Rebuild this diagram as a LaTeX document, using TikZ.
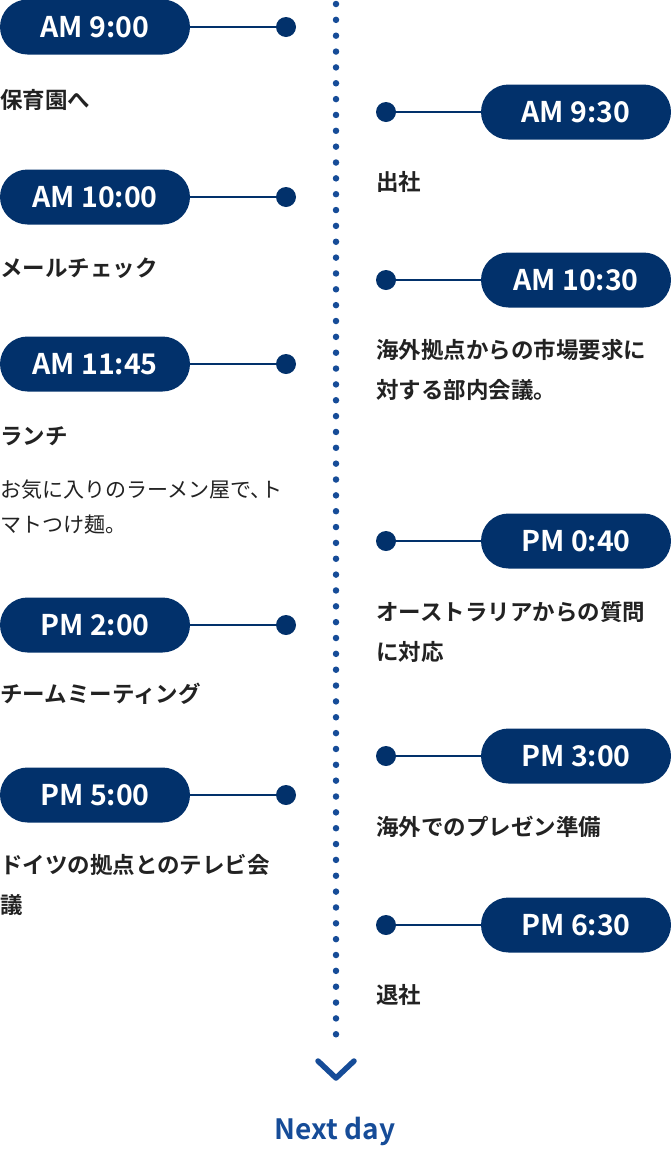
\documentclass[tikz,border=0pt]{standalone}
\usepackage{fontspec}
\setmainfont{Noto Sans CJK JP}[BoldFont={Noto Sans CJK JP Bold}]
\usetikzlibrary{positioning}
\definecolor{tlnavy}{RGB}{2,49,107}
\definecolor{tlblue}{RGB}{22,76,152}
\definecolor{tlgray}{RGB}{34,34,34}

\begin{document}
\begin{tikzpicture}[
    x=1pt, y=-1pt,
    pill/.style={fill=tlnavy, rounded corners=27.5pt, minimum width=190pt, minimum height=55pt, inner sep=0pt, text=white, font=\fontsize{28.5}{30}\selectfont\bfseries},
    pin/.style={circle, fill=tlnavy, minimum size=20pt, inner sep=0pt},
    lbl/.style={anchor=west, inner sep=0pt, align=left, text=tlgray, font=\fontsize{22.5}{40}\selectfont\bfseries},
    desc/.style={anchor=west, inner sep=0pt, align=left, text=tlgray, font=\fontsize{21}{35}\selectfont},
    tie/.style={draw=tlnavy, line width=2pt}
  ]
    \useasboundingbox (0,0) rectangle (671,1149);

    % center line
    \coordinate (top) at (336,4);
    \coordinate (bot) at (336,1050);
    \draw[tlblue, line width=6.5pt, line cap=round, dash pattern=on 0pt off 15.85pt] (top) -- (bot);
    \draw[tlblue, line width=5.5pt, line cap=round, line join=round] (318,1061) -- (336,1078) -- (354,1061);
    \node[text=tlblue, font=\fontsize{28}{30}\selectfont\bfseries] (next) at (335,1131) {Next day};

    % left side
    \node[pill] (tl1) at (95,27) {AM 9:00};
    \node[pill] (tl2) at (95,197) {AM 10:00};
    \node[pill] (tl3) at (95,364) {AM 11:45};
    \node[pill] (tl4) at (95,625) {PM 2:00};
    \node[pill] (tl5) at (95,795) {PM 5:00};
    \node[pin] (pl1) at (286,27) {};
    \node[pin] (pl2) at (286,197) {};
    \node[pin] (pl3) at (286,364) {};
    \node[pin] (pl4) at (286,625) {};
    \node[pin] (pl5) at (286,795) {};
    \node[lbl] (ll1) at (0,100) {保育園へ};
    \node[lbl] (ll2) at (0,268) {メールチェック};
    \node[lbl] (ll3) at (0,436) {ランチ};
    \node[desc] (dl3) at (0,507.5) {お気に入りのラーメン屋で、\kern-0.5em ト\\マトつけ麺。};
    \node[lbl] (ll4) at (0,694) {チームミーティング};
    \node[lbl] (ll5) at (0,885) {ドイツの拠点とのテレビ会\\議};

    % right side
    \node[pill] (tr1) at (576,112) {AM 9:30};
    \node[pill] (tr2) at (576,280) {AM 10:30};
    \node[pill] (tr3) at (576,541) {PM 0:40};
    \node[pill] (tr4) at (576,756) {PM 3:00};
    \node[pill] (tr5) at (576,925) {PM 6:30};
    \node[pin] (pr1) at (386,112) {};
    \node[pin] (pr2) at (386,280) {};
    \node[pin] (pr3) at (386,541) {};
    \node[pin] (pr4) at (386,756) {};
    \node[pin] (pr5) at (386,925) {};
    \node[lbl] (lr1) at (376,182) {出社};
    \node[lbl] (lr2) at (376,369.5) {海外拠点からの市場要求に\\対する部内会議。};
    \node[lbl] (lr3) at (376,631.5) {オーストラリアからの質問\\に対応};
    \node[lbl] (lr4) at (376,827) {海外でのプレゼン準備};
    \node[lbl] (lr5) at (376,995) {退社};

    \foreach \i in {1,...,5} {
      \draw[tie] (tl\i.east) -- (pl\i);
      \draw[tie] (pr\i) -- (tr\i.west);
    }
  \end{tikzpicture}
\end{document}
